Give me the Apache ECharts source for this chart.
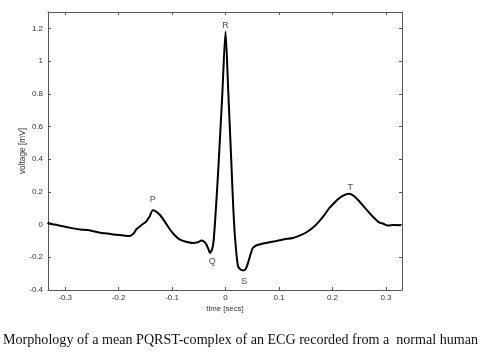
<!DOCTYPE html>
<html><head><meta charset="utf-8">
<script src="https://cdn.jsdelivr.net/npm/echarts@6/dist/echarts.min.js"></script>
<style>html,body{margin:0;padding:0;background:#fff}#c{width:481px;height:358px}</style>
</head><body><div id="c"></div>
<script>
const times = [-0.333,-0.32,-0.304,-0.29,-0.272,-0.255,-0.235,-0.22,-0.21,-0.195,-0.179,-0.172,-0.167,-0.158,-0.148,-0.142,-0.136,-0.13,-0.123,-0.114,-0.104,-0.095,-0.086,-0.074,-0.061,-0.052,-0.045,-0.04,-0.036,-0.032,-0.029,-0.025,-0.022,-0.017,-0.0125,-0.006,0,0.005,0.0106,0.0145,0.018,0.023,0.028,0.034,0.038,0.042,0.047,0.051,0.057,0.063,0.08,0.095,0.11,0.126,0.14,0.15,0.163,0.175,0.185,0.194,0.204,0.213,0.222,0.231,0.24,0.25,0.26,0.269,0.278,0.287,0.295,0.303,0.315,0.328];
const volts = [0.01,0.0,-0.01,-0.02,-0.03,-0.035,-0.05,-0.055,-0.06,-0.065,-0.07,-0.055,-0.03,-0.005,0.02,0.05,0.088,0.08,0.06,0.02,-0.03,-0.065,-0.09,-0.105,-0.112,-0.108,-0.098,-0.105,-0.12,-0.15,-0.173,-0.15,-0.09,0.15,0.40,0.80,1.18,0.82,0.40,0.1,-0.09,-0.25,-0.275,-0.28,-0.27,-0.235,-0.18,-0.143,-0.128,-0.122,-0.11,-0.10,-0.09,-0.082,-0.065,-0.05,-0.02,0.02,0.06,0.10,0.135,0.163,0.18,0.188,0.175,0.143,0.105,0.072,0.04,0.014,0.005,-0.006,-0.002,-0.004];
const waveNames = ['P','Q','R','S','T'];
const waveX = [-0.136,-0.025,0,0.035,0.233];
const waveY = [0.153,-0.228,1.215,-0.351,0.228];
const xTicks = [-0.3,-0.2,-0.1,0,0.1,0.2,0.3];
const yTicks = [-0.4,-0.2,0,0.2,0.4,0.6,0.8,1,1.2];
const caption = 'Morphology of a mean PQRST-complex of an ECG recorded from a  normal human';

const axisCol = '#555';
const labelStyle = {fontFamily:'Liberation Sans, Arial', fontSize:8, color:'#333'};
const chart = echarts.init(document.getElementById('c'));
const xBase = {type:'value', min:-0.332, max:0.33,
  axisLine:{show:true,onZero:false,lineStyle:{color:axisCol,width:1}},
  axisTick:{show:true,inside:true,length:3,customValues:xTicks,lineStyle:{color:axisCol}},
  splitLine:{show:false}};
const yBase = {type:'value', min:-0.4, max:1.3,
  axisLine:{show:true,onZero:false,lineStyle:{color:axisCol,width:1}},
  axisTick:{show:true,inside:true,length:3,customValues:yTicks,lineStyle:{color:axisCol}},
  splitLine:{show:false}};
chart.setOption({
  animation:false,
  backgroundColor:'#fff',
  title:{text:caption, left:'center', top:328,
    textStyle:{fontFamily:'Liberation Serif, Times New Roman', fontSize:14.1, fontWeight:'normal', color:'#111'}},
  grid:{left:48,right:79,top:12,bottom:68},
  xAxis:[
    Object.assign({}, xBase, {position:'bottom', name:'time [secs]', nameLocation:'middle', nameGap:15, nameMoveOverlap:false,
      nameTextStyle:{fontFamily:'Liberation Sans, Arial', fontSize:7.8, color:'#333'},
      axisLabel:Object.assign({margin:4, customValues:xTicks, formatter:v=>String(Math.round(v*10)/10)}, labelStyle)}),
    Object.assign({}, xBase, {position:'top', axisLabel:{show:false}})
  ],
  yAxis:[
    Object.assign({}, yBase, {position:'left', name:'voltage [mV]', nameLocation:'middle', nameGap:21, nameRotate:90, nameMoveOverlap:false,
      nameTextStyle:{fontFamily:'Liberation Sans, Arial', fontSize:8.3, color:'#333'},
      axisLabel:Object.assign({margin:5, customValues:yTicks, formatter:v=>String(Math.round(v*10)/10)}, labelStyle)}),
    Object.assign({}, yBase, {position:'right', axisLabel:{show:false}})
  ],
  series:[
    {type:'line', xAxisIndex:0, yAxisIndex:0, data:times.map((t,i)=>[t,volts[i]]),
     showSymbol:false, smooth:0.25, lineStyle:{color:'#000', width:2}},
    {type:'scatter', xAxisIndex:0, yAxisIndex:0, symbolSize:0,
     data:waveNames.map((n,i)=>({name:n, value:[waveX[i],waveY[i]]})),
     label:{show:true, position:'inside', formatter:p=>p.name, fontFamily:'Liberation Sans, Arial', fontSize:9, color:'#222'}}
  ]
});
</script></body></html>
